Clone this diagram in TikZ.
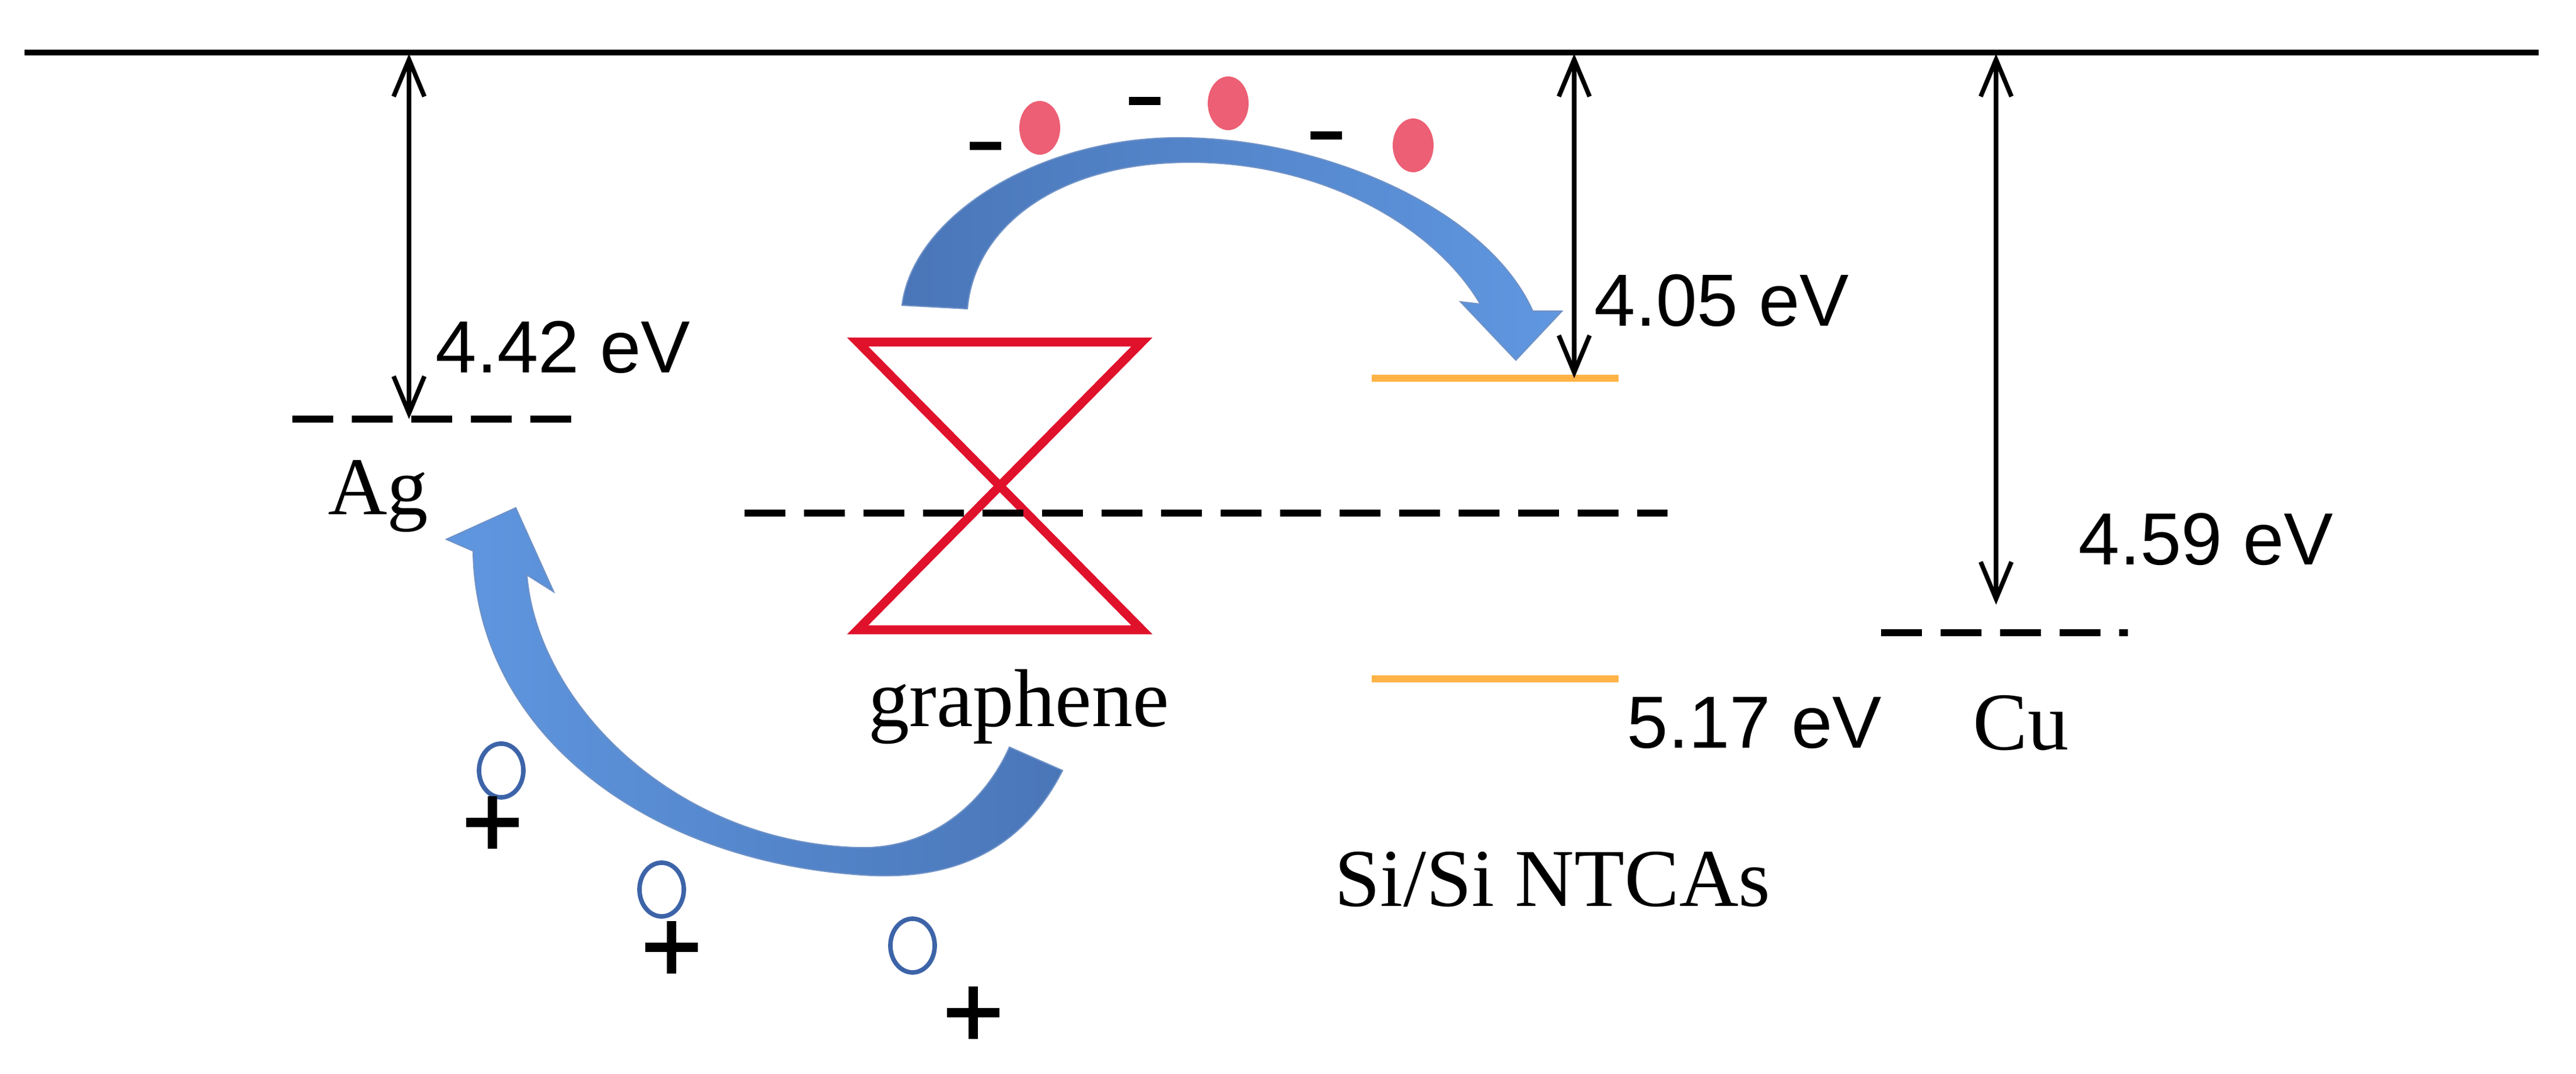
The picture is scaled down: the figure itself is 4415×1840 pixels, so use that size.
\documentclass[tikz,border=0pt]{standalone}
\usepackage{fontspec}
\setmainfont{Liberation Serif}
\newfontfamily\sansf{Liberation Sans}
\usetikzlibrary{arrows.meta}
\definecolor{dblue}{HTML}{4A76B8}
\definecolor{lblue}{HTML}{5F97E0}
\definecolor{gred}{HTML}{E0112B}
\definecolor{orng}{HTML}{FFB347}
\definecolor{pink}{HTML}{EC5F74}
\definecolor{hole}{HTML}{3D64A8}
\begin{document}
\begin{tikzpicture}[x=0.01cm,y=-0.01cm,
  dim/.style={line width=2.2pt,{Straight Barb[length=18pt,width=15pt]}-{Straight Barb[length=18pt,width=15pt]}},
  lev/.style={line width=3.4pt,dash pattern=on 20pt off 9pt},
  band/.style={line width=3.6pt,orng},
  ev/.style={font=\sansf\fontsize{36}{40}\selectfont,anchor=west,inner sep=0},
  lab/.style={font=\fontsize{40}{46}\selectfont,inner sep=0},
  elec/.style={fill=pink,draw=none},
  hol/.style={draw=hole,line width=2.2pt,fill=none},
  sgn/.style={line width=4.5pt,black}]
\useasboundingbox (0,0) rectangle (4415,1840);
% vacuum level
\draw[line width=3pt] (42,90) -- (4351,90);
\coordinate (vAg) at (701,92); \coordinate (vSi) at (2698,92); \coordinate (vCu) at (3421,92);
% Ag
\coordinate (Ag) at (701,718);
\draw[lev] (501,718) -- (1000,718);
\draw[dim] (vAg) -- (Ag);
\node[ev] (eAg) at (746,595) {4.42 eV};
\node[lab] (lAg) at (648,850) {Ag};
% graphene
\draw[gred,line width=4.3pt,line join=miter] (1470,586) -- (1957,586) -- (1470,1079) -- (1957,1079) -- cycle;
\draw[lev] (1276,879) -- (2858,879);
\node[lab] (lg) at (1746,1211) {graphene};
% Si
\coordinate (Si) at (2698,648);
\draw[band] (2351,648) -- (2774,648);
\draw[band] (2351,1163) -- (2774,1163);
\draw[dim] (vSi) -- (Si);
\node[ev] (eSi1) at (2732,515) {4.05 eV};
\node[ev] (eSi2) at (2788,1239) {5.17 eV};
\node[lab] (lSi) at (2661,1507) {Si/Si NTCAs};
% Cu
\coordinate (Cu) at (3421,1036);
\draw[lev] (3224,1084) -- (3647,1084);
\draw[dim] (vCu) -- (Cu);
\node[ev] (eCu) at (3562,924) {4.59 eV};
\node[lab] (lCu) at (3464,1239) {Cu};
% top curved arrow
\shade[left color=dblue,right color=lblue,draw=dblue!80,line width=0.6pt]
  (1546,523) .. controls (1565,370) and (1780,236) .. (2020,236)
  .. controls (2270,236) and (2550,360) .. (2627,533)
  -- (2677,533) -- (2598,617) -- (2503,517) -- (2537,521)
  .. controls (2460,390) and (2270,278) .. (2040,278)
  .. controls (1810,278) and (1670,390) .. (1658,529) -- cycle;
% electrons
\fill[elec] (1782,219) ellipse (35 and 46);
\fill[elec] (2105,177) ellipse (35 and 46);
\fill[elec] (2422,249) ellipse (35 and 46);
\fill (1662,243) rectangle (1716,257);
\fill (1935,166) rectangle (1989,180);
\fill (2246,225) rectangle (2300,239);
% bottom curved arrow
\shade[left color=lblue,right color=dblue,draw=dblue!80,line width=0.6pt]
  (1821,1320) .. controls (1740,1480) and (1600,1510) .. (1465,1498)
  .. controls (1100,1470) and (815,1250) .. (811,944)
  -- (765,924) -- (884,870) -- (949,1014) -- (903,985)
  .. controls (920,1200) and (1150,1440) .. (1465,1452)
  .. controls (1600,1458) and (1690,1370) .. (1730,1280) -- cycle;
% holes
\draw[hol] (859,1320) ellipse (38 and 46);
\draw[hol] (1134,1524) ellipse (38 and 46);
\draw[hol] (1564,1620) ellipse (38 and 46);
\foreach \x/\y in {844/1409,1151/1623,1668/1735}{
  \draw[sgn] (\x-45,\y) -- (\x+45,\y);
  \draw[sgn] (\x,\y-45) -- (\x,\y+45);
}
\end{tikzpicture}
\end{document}
